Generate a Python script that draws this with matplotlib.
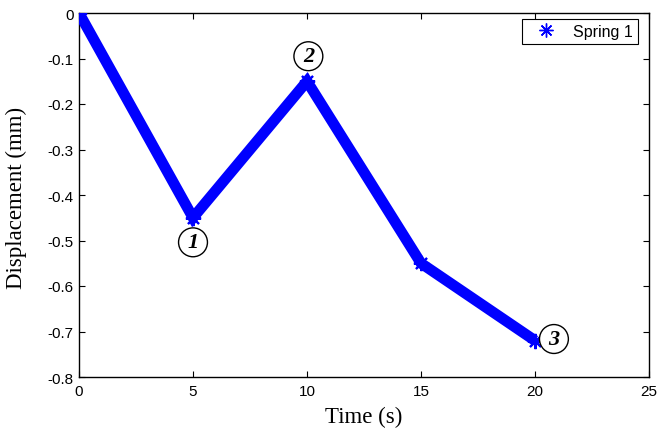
import matplotlib
matplotlib.use("Agg")
import matplotlib.pyplot as plt
from matplotlib.lines import Line2D

time_s = [0, 5, 10, 15, 20]
displacement_mm = [0, -0.45, -0.15, -0.55, -0.72]
labels = ["1", "2", "3"]
label_x = [5.0, 10.06, 20.83]
label_y = [-0.504, -0.095, -0.7165]
xticks = [0, 5, 10, 15, 20, 25]
yticks = [0, -0.1, -0.2, -0.3, -0.4, -0.5, -0.6, -0.7, -0.8]

fig = plt.figure(figsize=(6.57, 4.31), dpi=100)
ax = fig.add_axes([79/657, 1-378/431, (649-79)/657, (378-14)/431])

ast = (8, 2, 0)
ax.plot(time_s, displacement_mm, color="#0000ff", lw=7.8, solid_joinstyle="miter",
        solid_capstyle="butt", marker=ast, markersize=11, mew=1.5, zorder=3)

for t, x, y in zip(labels, label_x, label_y):
    ax.text(x, y, t, fontsize=16, family="Liberation Serif", style="italic",
            weight="bold", ha="center", va="center", zorder=5,
            bbox=dict(boxstyle="circle,pad=0.2", fc="white", ec="black", lw=1.0))

ax.set_xlim(0, 25)
ax.set_ylim(-0.8, 0)
ax.set_xticks(xticks)
ax.set_yticks(yticks)
ax.set_xticklabels([str(v) for v in xticks])
ax.set_yticklabels(["0" if v == 0 else f"{v:g}" for v in yticks])
ax.tick_params(direction="in", top=True, right=True, length=4.5, width=0.8,
               labelsize=11)
ax.tick_params(axis="x", pad=5)
ax.tick_params(axis="y", pad=4)
for lab in ax.get_xticklabels() + ax.get_yticklabels():
    lab.set_family("Liberation Sans")
for s in ax.spines.values():
    s.set_linewidth(1.0)

ax.set_xlabel("Time (s)", family="Liberation Serif", fontsize=16.5)
ax.set_ylabel("Displacement (mm)", family="Liberation Serif", fontsize=16.5)
ax.xaxis.set_label_coords(0.5, -0.078)
ax.yaxis.set_label_coords(-0.091, 0.4945)

handle = Line2D([], [], color="#0000ff", lw=0, marker=ast, markersize=10, mew=1.0)
leg = ax.legend([handle], ["Spring 1"], loc="upper right",
                bbox_to_anchor=((638-79)/570, 1-6/364), borderaxespad=0,
                fancybox=False, edgecolor="black", framealpha=1,
                prop={"family": "Liberation Sans", "size": 11.5},
                handlelength=2.5, handletextpad=0.45, borderpad=0.3)
leg.get_frame().set_linewidth(0.8)

fig.savefig("out.png", dpi=100)
